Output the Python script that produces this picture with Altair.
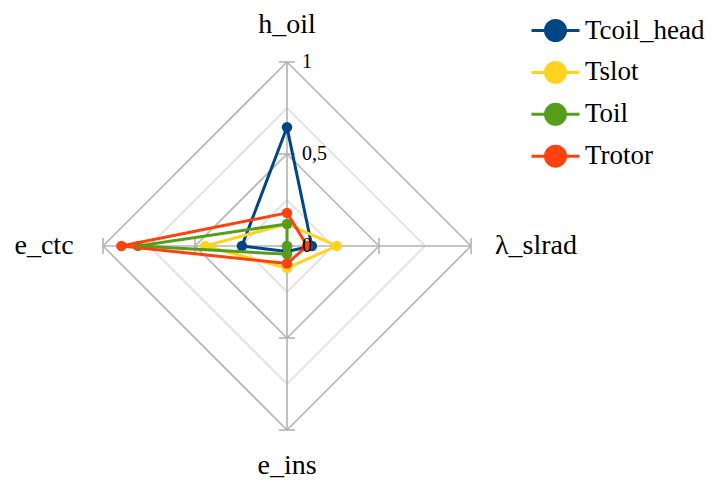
import altair as alt
import pandas as pd

categories = ["h_oil", "λ_slrad", "e_ins", "e_ctc"]
series_names = ["Tcoil_head", "Tslot", "Toil", "Trotor"]
tcoil_head = [0.645, 0.135, 0.03, 0.245]
tslot = [0.12, 0.27, 0.12, 0.445]
toil = [0.12, 0.0, 0.045, 0.81]
trotor = [0.18, 0.11, 0.095, 0.90]
colors = ["#004586", "#ffd320", "#579d1c", "#ff420e"]
major_rings = [0.5, 1.0]
minor_rings = [0.25, 0.75]
tick_values = [0.0, 0.5, 1.0]
tick_labels = ["0", "0,5", "1"]

FONT = "Liberation Serif, Times New Roman, Tinos, DejaVu Serif, serif"

all_series = [tcoil_head, tslot, toil, trotor]
rows = []
for name, vals in zip(series_names, all_series):
    for k in range(5):
        i = k % 4
        rows.append({"series": name, "cat": categories[i], "idx": i, "ord": k, "value": vals[i]})
df = pd.DataFrame(rows)

def ring_df(rings):
    return pd.DataFrame([{"r": r, "idx": i} for r in rings for i in range(4)])

spoke_df = pd.DataFrame({"idx": list(range(4))})
tick_df = pd.DataFrame([{"v": v, "idx": i} for v in tick_values for i in range(4)])
tlabel_df = pd.DataFrame({"v": tick_values, "label": tick_labels})
cat_df = pd.DataFrame({"cat": categories, "idx": list(range(4))})

xs = alt.Scale(domain=[-1.5163, 2.2989], nice=False, zero=False)
ys = alt.Scale(domain=[-1.2826, 1.2935], nice=False, zero=False)

def X(f):
    return alt.X(f, type="quantitative", scale=xs, axis=None)

def Y(f):
    return alt.Y(f, type="quantitative", scale=ys, axis=None)

def rings_layer(rings, color):
    return alt.Chart(ring_df(rings)).transform_calculate(
        x="datum.r*sin(datum.idx*PI/2)",
        y="datum.r*cos(datum.idx*PI/2)",
        x2="datum.r*sin((datum.idx+1)*PI/2)",
        y2="datum.r*cos((datum.idx+1)*PI/2)",
    ).mark_rule(color=color, strokeWidth=1.6).encode(
        x=X("x"), y=Y("y"), x2="x2:Q", y2="y2:Q"
    )

minor = rings_layer(minor_rings, "#dddddd")
major = rings_layer(major_rings, "#b3b3b3")

spokes = alt.Chart(spoke_df).transform_calculate(
    x="0", y="0",
    x2="sin(datum.idx*PI/2)", y2="cos(datum.idx*PI/2)",
).mark_rule(color="#b3b3b3", strokeWidth=1.6).encode(
    x=X("x"), y=Y("y"), x2="x2:Q", y2="y2:Q"
)

H = 0.0435
ticks = alt.Chart(tick_df).transform_calculate(
    x=f"datum.v*sin(datum.idx*PI/2) - {H}*cos(datum.idx*PI/2)",
    x2=f"datum.v*sin(datum.idx*PI/2) + {H}*cos(datum.idx*PI/2)",
    y=f"datum.v*cos(datum.idx*PI/2) + {H}*sin(datum.idx*PI/2)",
    y2=f"datum.v*cos(datum.idx*PI/2) - {H}*sin(datum.idx*PI/2)",
).mark_rule(color="#b3b3b3", strokeWidth=1.6).encode(
    x=X("x"), y=Y("y"), x2="x2:Q", y2="y2:Q"
)

legend = alt.Legend(
    title=None, orient="none", legendX=526, legendY=1,
    symbolType="M-1.2,0H1.2M0.5,0A0.5,0.5,0,1,1,-0.5,0A0.5,0.5,0,1,1,0.5,0Z",
    symbolSize=1600, symbolStrokeWidth=3, symbolOpacity=1,
    labelFont=FONT, labelFontSize=27, labelColor="#000000", labelOffset=8,
    rowPadding=3.9, padding=0, labelLimit=300,
)
cscale = alt.Scale(domain=series_names, range=colors)

base = alt.Chart(df).transform_calculate(
    x="datum.value*sin(datum.idx*PI/2)",
    y="datum.value*cos(datum.idx*PI/2)",
)

series_layers = []
for name in series_names:
    b = base.transform_filter(alt.datum.series == name)
    line = b.mark_line(strokeWidth=3).encode(
        x=X("x"), y=Y("y"), order="ord:Q",
        stroke=alt.Stroke("series:N", scale=cscale, legend=legend),
    )
    pts = b.transform_filter(alt.datum.ord < 4).mark_point(
        filled=True, size=110, opacity=1, shape="circle"
    ).encode(
        x=X("x"), y=Y("y"),
        fill=alt.Fill("series:N", scale=cscale, legend=legend),
    )
    series_layers += [line, pts]

tlabels = alt.Chart(tlabel_df).mark_text(
    font=FONT, fontSize=20, align="left", baseline="middle", dx=15, color="#000000"
).encode(x=alt.X("z:Q", scale=xs, axis=None), y=Y("v"), text="label:N").transform_calculate(z="0")

toplabel = alt.Chart(cat_df).transform_filter("datum.idx == 0").transform_calculate(
    x="0", y="1.156"
).mark_text(font=FONT, fontSize=28, align="center", baseline="alphabetic", color="#000000").encode(
    x=X("x"), y=Y("y"), text="cat:N"
)
botlabel = alt.Chart(cat_df).transform_filter("datum.idx == 2").transform_calculate(
    x="0", y="-1.24"
).mark_text(font=FONT, fontSize=28, align="center", baseline="alphabetic", color="#000000").encode(
    x=X("x"), y=Y("y"), text="cat:N"
)
rlabel = alt.Chart(cat_df).transform_filter("datum.idx == 1").transform_calculate(
    x="1.13", y="0"
).mark_text(font=FONT, fontSize=28, align="left", baseline="middle", color="#000000").encode(
    x=X("x"), y=Y("y"), text="cat:N"
)
llabel = alt.Chart(cat_df).transform_filter("datum.idx == 3").transform_calculate(
    x="-1.16", y="0"
).mark_text(font=FONT, fontSize=28, align="right", baseline="middle", color="#000000").encode(
    x=X("x"), y=Y("y"), text="cat:N"
)

chart = alt.layer(
    minor, major, spokes, ticks, *series_layers, tlabels, toplabel, botlabel, rlabel, llabel
).properties(
    width=702, height=474, padding=0, autosize=alt.AutoSizeParams(type="none")
).configure_view(strokeWidth=0, strokeOpacity=0)

chart.save("out.html", embed_options={"renderer": "svg", "actions": False})
